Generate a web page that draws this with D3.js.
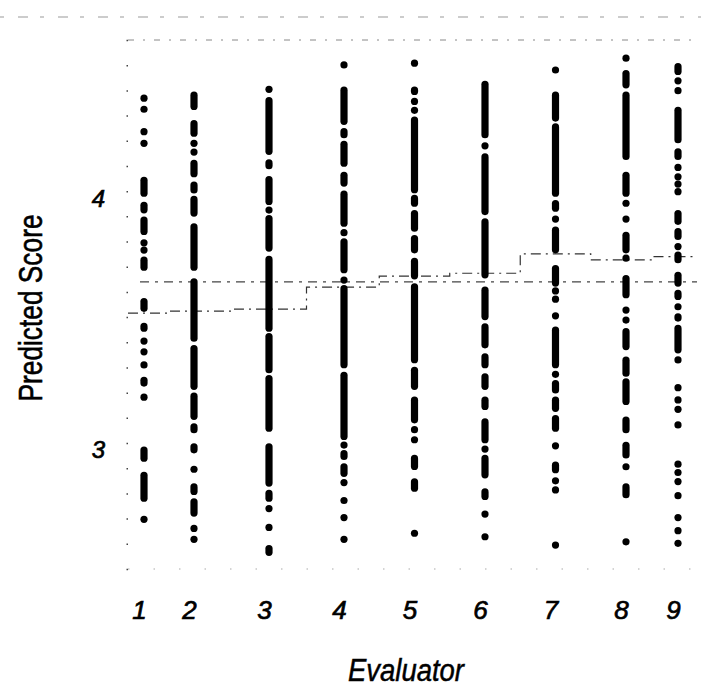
<!DOCTYPE html>
<html><head><meta charset="utf-8">
<script src="https://cdn.jsdelivr.net/npm/d3@7/dist/d3.min.js"></script>
<style>body{margin:0;background:#fff}</style>
</head><body><svg id="chart" width="701" height="688"></svg>
<script>
// ---- data ----
const evaluators = [1, 2, 3, 4, 5, 6, 7, 8, 9];
const yTickLabels = [3, 4];
const evaluatorMeans = [3.516, 3.524, 3.532, 3.619, 3.663, 3.674, 3.751, 3.727, 3.740];
const grandMean = 3.64;
// runs of overlapping predicted scores per evaluator: [lowest, highest]
const scoresE1 = [[4.369,4.369],[4.325,4.325],[4.236,4.236],[4.190,4.190],[3.992,4.043],[3.926,3.944],[3.840,3.885],[3.795,3.795],[3.766,3.766],[3.698,3.726],[3.535,3.562],[3.456,3.463],[3.405,3.405],[3.362,3.362],[3.310,3.310],[3.238,3.249],[3.182,3.182],[2.940,2.972],[2.781,2.872],[2.697,2.697]];
const scoresE2 = [[4.336,4.381],[4.230,4.268],[4.190,4.190],[4.155,4.155],[4.069,4.110],[4.005,4.024],[3.913,3.967],[3.698,3.858],[3.416,3.640],[3.225,3.375],[3.106,3.186],[3.053,3.064],[2.973,2.985],[2.896,2.896],[2.808,2.826],[2.722,2.767],[2.661,2.661],[2.618,2.618]];
const scoresE3 = [[4.404,4.404],[4.158,4.359],[4.101,4.112],[3.959,4.046],[3.925,3.925],[3.774,3.891],[3.456,3.729],[3.291,3.423],[3.059,3.256],[2.841,2.985],[2.781,2.800],[2.740,2.740],[2.665,2.665],[2.566,2.581]];
const scoresE4 = [[4.501,4.501],[4.277,4.401],[4.224,4.236],[4.111,4.186],[4.032,4.063],[3.873,3.988],[3.835,3.835],[3.688,3.799],[3.647,3.647],[3.311,3.613],[3.026,3.269],[2.992,2.992],[2.947,2.958],[2.880,2.906],[2.843,2.843],[2.772,2.772],[2.704,2.704],[2.618,2.618]];
const scoresE5 = [[4.508,4.508],[4.396,4.401],[4.356,4.356],[4.321,4.321],[4.006,4.282],[3.952,3.971],[3.853,3.911],[3.767,3.812],[3.664,3.721],[3.331,3.620],[3.225,3.289],[3.092,3.170],[3.053,3.053],[3.013,3.013],[2.907,2.939],[2.821,2.846],[2.642,2.642]];
const scoresE6 = [[4.224,4.424],[4.180,4.180],[3.919,4.136],[3.668,3.878],[3.502,3.607],[3.390,3.461],[3.311,3.342],[3.225,3.263],[3.145,3.170],[3.013,3.084],[2.976,2.976],[2.874,2.939],[2.788,2.806],[2.718,2.718],[2.628,2.628]];
const scoresE7 = [[4.481,4.481],[4.290,4.381],[3.992,4.255],[3.932,3.951],[3.889,3.889],[3.767,3.845],[3.635,3.693],[3.604,3.604],[3.571,3.571],[3.505,3.505],[3.311,3.448],[3.273,3.273],[3.211,3.236],[3.138,3.170],[3.059,3.097],[2.989,2.989],[2.894,2.912],[2.850,2.850],[2.814,2.814],[2.595,2.595]];
const scoresE8 = [[4.528,4.528],[4.422,4.467],[4.138,4.381],[3.992,4.063],[3.952,3.952],[3.889,3.889],[3.767,3.825],[3.734,3.734],[3.589,3.653],[3.528,3.528],[3.488,3.488],[3.383,3.442],[3.277,3.329],[3.165,3.243],[3.053,3.091],[2.953,2.991],[2.906,2.906],[2.795,2.826],[2.608,2.608]];
const scoresE9 = [[4.475,4.494],[4.438,4.438],[4.399,4.399],[4.204,4.321],[4.138,4.156],[4.094,4.094],[4.057,4.057],[4.028,4.028],[3.998,3.998],[3.880,3.911],[3.820,3.839],[3.780,3.780],[3.728,3.746],[3.635,3.666],[3.582,3.594],[3.541,3.541],[3.496,3.501],[3.370,3.455],[3.330,3.330],[3.220,3.220],[3.171,3.171],[3.134,3.134],[3.072,3.072],[2.916,2.916],[2.883,2.883],[2.847,2.847],[2.791,2.791],[2.704,2.704],[2.652,2.652],[2.602,2.602]];
const allScores = [scoresE1, scoresE2, scoresE3, scoresE4, scoresE5, scoresE6, scoresE7, scoresE8, scoresE9];

// ---- chart ----
const svg = d3.select('#chart');
const font = '"Liberation Sans", Arial, sans-serif';
const x = d3.scaleLinear().domain([1, 2, 4, 8, 9]).range([144, 194, 344, 626, 678]);
const y = d3.scaleLinear().domain([2.5, 4.6]).range([569, 40]);
const left = 128, right = 697;

// scan line & frame
svg.append('line').attr('x1', 0).attr('x2', 701).attr('y1', 17).attr('y2', 17)
  .attr('stroke', '#999').attr('stroke-width', 1).attr('stroke-dasharray', '4 14 10 12');
svg.append('line').attr('x1', left).attr('x2', right).attr('y1', y(4.6)).attr('y2', y(4.6))
  .attr('stroke', '#888').attr('stroke-width', 1).attr('stroke-dasharray', '6 9 2 9');
svg.append('line').attr('x1', left).attr('x2', right).attr('y1', y(2.5)).attr('y2', y(2.5))
  .attr('stroke', '#aaa').attr('stroke-width', 1.2).attr('stroke-dasharray', '1.5 24');

// left dotted axis (minor ticks)
const minor = d3.range(25, 47).map(d => d / 10);
svg.append('g').attr('transform', `translate(${left},0)`)
  .call(d3.axisLeft(y).tickValues(minor).tickSize(1.5).tickFormat(''))
  .call(g => g.select('.domain').remove())
  .call(g => g.selectAll('line').attr('stroke', '#444').attr('stroke-width', 1.5));

// y labels
svg.append('g').attr('transform', `translate(${left},0)`)
  .call(d3.axisLeft(y).tickValues(yTickLabels).tickSize(0).tickPadding(23).tickFormat(d3.format('d')))
  .call(g => g.select('.domain').remove())
  .call(g => g.selectAll('text').attr('dy', '0.62em').attr('font-family', font)
    .attr('font-style', 'italic').attr('font-size', 24).attr('fill', '#000')
    .attr('stroke', '#000').attr('stroke-width', 0.7));

// x labels
svg.append('g').attr('transform', `translate(0,${y(2.5)})`)
  .call(d3.axisBottom(x).tickValues(evaluators).tickSize(0).tickPadding(31.5).tickFormat(d3.format('d')))
  .call(g => g.select('.domain').remove())
  .call(g => g.selectAll('text').attr('dx', -5).attr('font-family', font)
    .attr('font-style', 'italic').attr('font-size', 26).attr('fill', '#000')
    .attr('stroke', '#000').attr('stroke-width', 0.7));

// titles
svg.append('text').attr('transform', 'translate(42,308) rotate(-90)')
  .attr('text-anchor', 'middle').attr('font-family', font).attr('font-size', 34)
  .attr('stroke', '#000').attr('stroke-width', 0.6)
  .attr('textLength', 187).attr('lengthAdjust', 'spacingAndGlyphs').text('Predicted Score');
svg.append('text').attr('x', 406).attr('y', 681)
  .attr('text-anchor', 'middle').attr('font-family', font).attr('font-size', 31).attr('font-style', 'italic')
  .attr('stroke', '#000').attr('stroke-width', 0.5)
  .attr('textLength', 116).attr('lengthAdjust', 'spacingAndGlyphs').text('Evaluator');

// grand mean line
svg.append('line').attr('x1', 140).attr('x2', right).attr('y1', y(grandMean)).attr('y2', y(grandMean))
  .attr('stroke', '#444').attr('stroke-width', 1.1).attr('stroke-dasharray', '9 6 3 6');

// evaluator mean step line
const stepPts = [[left, evaluatorMeans[0]]]
  .concat(evaluators.map((e, i) => [x(e), evaluatorMeans[i]]))
  .concat([[right, evaluatorMeans[evaluatorMeans.length - 1]]]);
svg.append('path').datum(stepPts)
  .attr('d', d3.line().x(d => d[0]).y(d => y(d[1])).curve(d3.curveStep))
  .attr('fill', 'none').attr('stroke', '#333').attr('stroke-width', 1.2).attr('stroke-dasharray', '10 5 2 5');

// points
const r = 3.6;
evaluators.forEach((e, i) => {
  const g = svg.append('g').attr('fill', '#000');
  const runs = allScores[i];
  g.selectAll('rect').data(runs.filter(d => d[1] - d[0] > 0.004)).join('rect')
    .attr('x', x(e) - r).attr('width', 2 * r)
    .attr('y', d => y(d[1]) - r).attr('height', d => y(d[0]) - y(d[1]) + 2 * r)
    .attr('rx', r).attr('ry', r);
  g.selectAll('circle').data(runs.filter(d => d[1] - d[0] <= 0.004)).join('circle')
    .attr('cx', x(e)).attr('cy', d => y((d[0] + d[1]) / 2)).attr('r', r);
});
</script></body></html>
